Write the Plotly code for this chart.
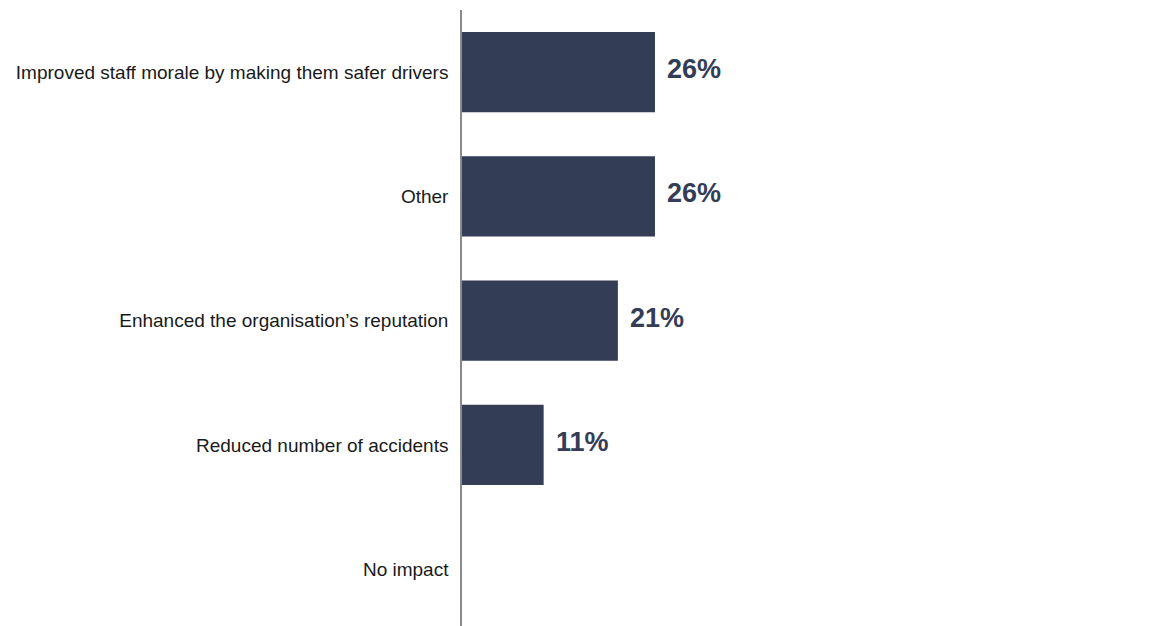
import plotly.graph_objects as go

categories = [
    "Improved staff morale by making them safer drivers",
    "Other",
    "Enhanced the organisation’s reputation",
    "Reduced number of accidents",
    "No impact",
]
values = [26, 26, 21, 11, 0]
value_labels = ["26%", "26%", "21%", "11%", ""]

BAR_COLOR = "#343d56"
FONT = "Liberation Sans, Arial, Helvetica, sans-serif"

fig = go.Figure(
    go.Bar(
        x=values,
        y=categories,
        orientation="h",
        marker=dict(color=BAR_COLOR, line=dict(width=0)),
        width=0.645,
        hoverinfo="skip",
    )
)

# Percentage labels just past the end of each bar
for cat, val, lab in zip(categories, values, value_labels):
    if not lab:
        continue
    fig.add_annotation(
        x=val, y=cat, text=f"<b>{lab}</b>",
        xanchor="left", yanchor="middle",
        xshift=10, yshift=3, showarrow=False,
        font=dict(family=FONT, size=27, color=BAR_COLOR),
    )

fig.update_layout(
    width=1159, height=626,
    margin=dict(l=462, r=0, t=10, b=0),
    paper_bgcolor="white", plot_bgcolor="white",
    showlegend=False,
    font=dict(family=FONT),
    xaxis=dict(range=[0, 93.9], visible=False, fixedrange=True),
    yaxis=dict(
        type="category",
        range=[4.458, -0.5],
        showline=True, linecolor="#8a8a8a", linewidth=1.5,
        showgrid=False, zeroline=False,
        ticks="", ticklabelstandoff=8,
        tickfont=dict(family=FONT, size=19, color="#1a1a1a"),
        fixedrange=True,
    ),
)

fig.write_html("out.html")
